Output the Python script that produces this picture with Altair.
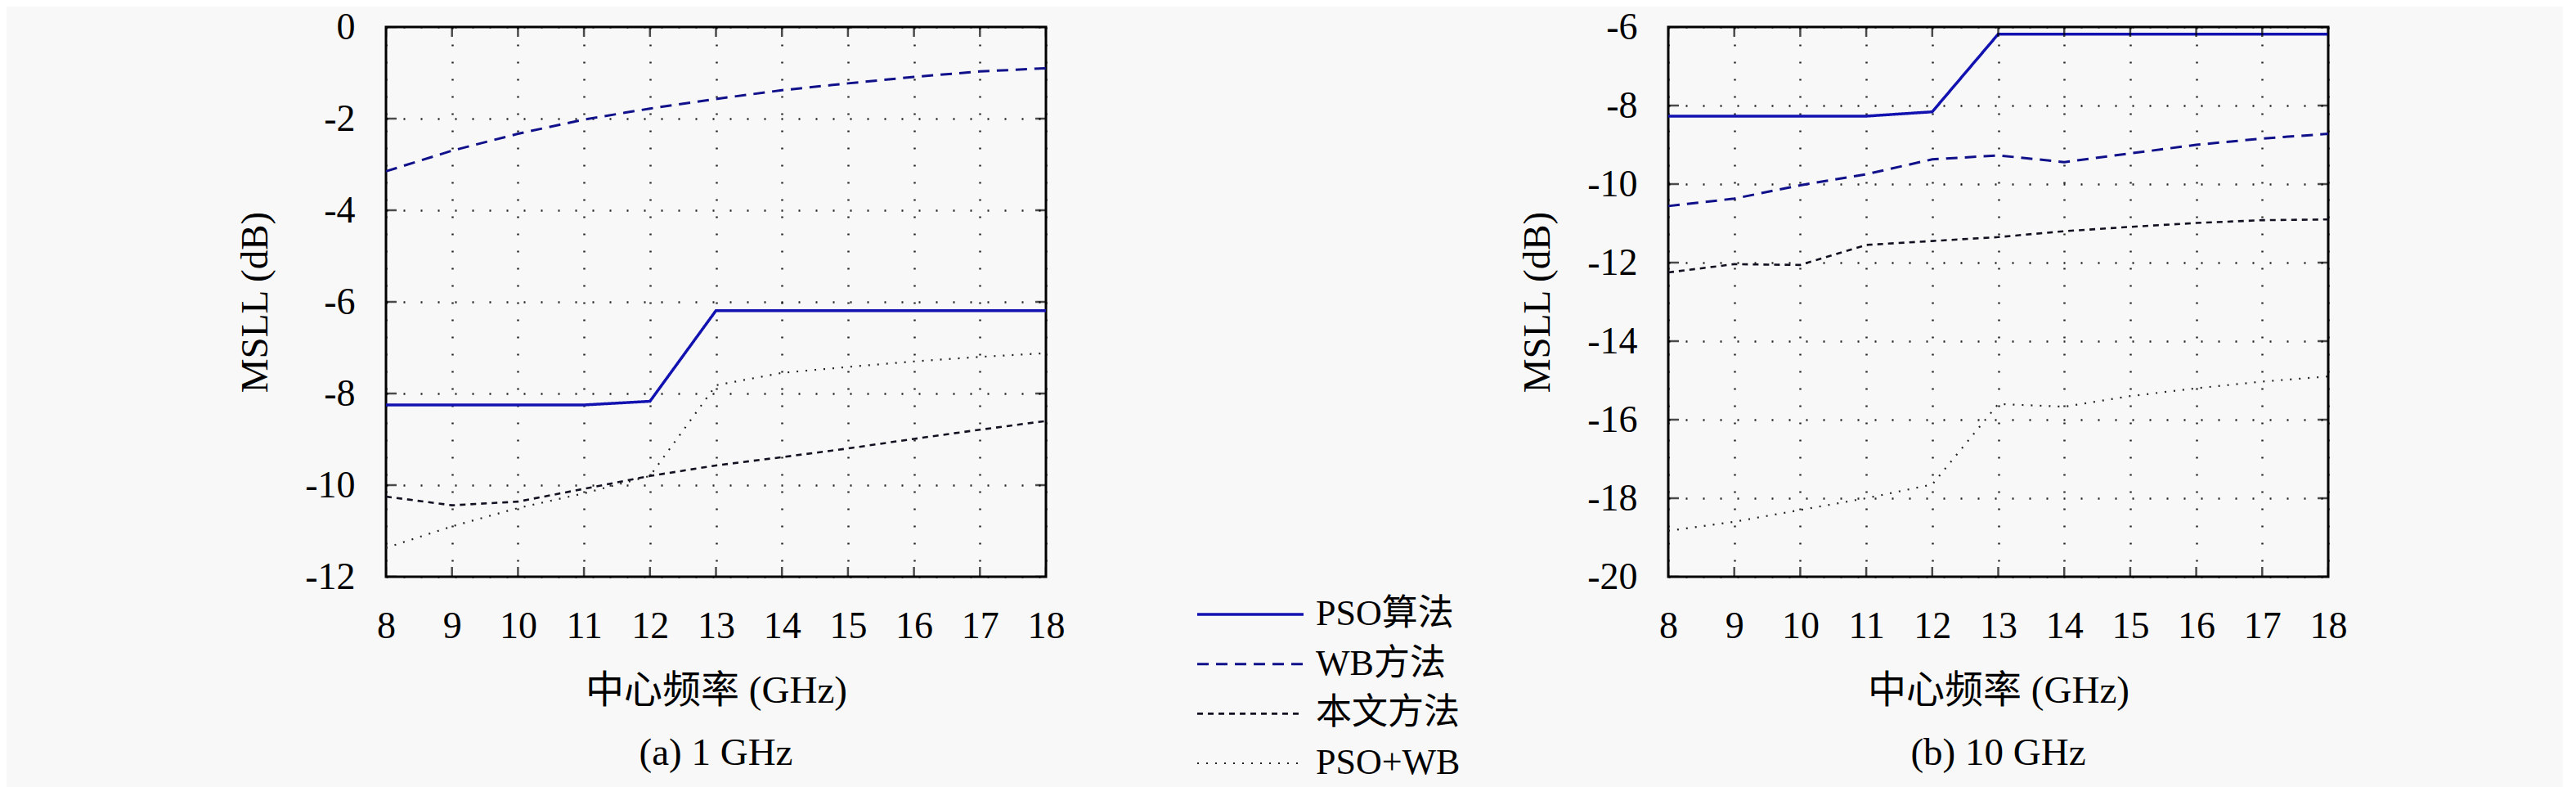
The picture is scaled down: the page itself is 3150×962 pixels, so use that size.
import altair as alt
import pandas as pd

freq = [8, 9, 10, 11, 12, 13, 14, 15, 16, 17, 18]
series = ["PSO算法", "WB方法", "本文方法", "PSO+WB"]

# panel (a) 1 GHz
pso_a = [-8.25, -8.25, -8.25, -8.25, -8.17, -6.19, -6.19, -6.19, -6.19, -6.19, -6.19]
wb_a = [-3.15, -2.70, -2.33, -2.02, -1.78, -1.57, -1.38, -1.23, -1.09, -0.97, -0.90]
ours_a = [-10.25, -10.44, -10.36, -10.08, -9.80, -9.57, -9.39, -9.20, -8.99, -8.79, -8.60]
psowb_a = [-11.37, -10.90, -10.50, -10.18, -9.80, -7.82, -7.55, -7.42, -7.30, -7.20, -7.12]

# panel (b) 10 GHz
pso_b = [-8.27, -8.27, -8.27, -8.27, -8.16, -6.18, -6.18, -6.18, -6.18, -6.18, -6.18]
wb_b = [-10.56, -10.37, -10.03, -9.75, -9.37, -9.27, -9.44, -9.22, -9.00, -8.84, -8.72]
ours_b = [-12.25, -12.04, -12.06, -11.55, -11.45, -11.35, -11.20, -11.09, -10.99, -10.92, -10.90]
psowb_b = [-18.83, -18.60, -18.30, -18.00, -17.65, -15.60, -15.67, -15.40, -15.20, -15.03, -14.90]

yticks_a = [-12, -10, -8, -6, -4, -2, 0]
yticks_b = [-20, -18, -16, -14, -12, -10, -8, -6]

FONT = "Liberation Serif, Noto Sans CJK SC"
colors = ["#1212b0", "#10108a", "#111122", "#222222"]
dashes = [[1, 0], [14, 9], [7, 6], [2, 9]]
widths = [3.5, 3.0, 2.6, 2.2]


def make_df(vals):
    rows = []
    for s, v in zip(series, vals):
        for f, y in zip(freq, v):
            rows.append({"freq": f, "value": y, "series": s})
    return pd.DataFrame(rows)


def panel(vals, yticks, title):
    ymin, ymax = min(yticks), max(yticks)
    df = make_df(vals)
    xenc = alt.X(
        "freq:Q",
        scale=alt.Scale(domain=[8, 18], nice=False, zero=False),
        axis=alt.Axis(values=freq, title="中心频率 (GHz)", grid=True, ticks=False,
                      domain=False, labelPadding=38, titlePadding=33,
                      labelFlush=False, labelOverlap=False, format="d",
                      labelFont=FONT, titleFont=FONT),
    )
    yenc = alt.Y(
        "value:Q",
        scale=alt.Scale(domain=[ymin, ymax], nice=False, zero=False),
        axis=alt.Axis(values=yticks, title="MSLL (dB)", grid=True, ticks=False,
                      domain=False, labelPadding=38, titlePadding=36,
                      labelFlush=False, labelOverlap=False,
                      labelExpr="datum.value + ''",
                      labelFont=FONT, titleFont=FONT),
    )
    layers = []
    for i, s in enumerate(series):
        layers.append(
            alt.Chart(df).transform_filter(alt.datum.series == s).mark_line(
                color=colors[i], strokeDash=dashes[i], strokeWidth=widths[i],
                strokeCap="butt"
            ).encode(x=xenc, y=yenc)
        )
    xt = pd.DataFrame([{"freq": f, "value": v} for f in freq for v in (ymin, ymax)])
    yt = pd.DataFrame([{"freq": f, "value": v} for v in yticks for f in (8, 18)])
    layers.append(
        alt.Chart(xt).mark_tick(orient="vertical", size=24, thickness=2.5,
                                color="black", clip=True)
        .encode(x="freq:Q", y="value:Q")
    )
    layers.append(
        alt.Chart(yt).mark_tick(orient="horizontal", size=26, thickness=2.5,
                                color="black", clip=True)
        .encode(x="freq:Q", y="value:Q")
    )
    return alt.layer(*layers).properties(
        width=807, height=672,
        title=alt.TitleParams(text=title, orient="bottom", offset=31, fontSize=47,
                              font=FONT, fontWeight="normal", color="black",
                              anchor="middle"),
    )


left = panel([pso_a, wb_a, ours_a, psowb_a], yticks_a, "(a) 1 GHz")
right = panel([pso_b, wb_b, ours_b, psowb_b], yticks_b, "(b) 10 GHz")

leg_df = pd.DataFrame({"series": series})
ysc = alt.Y("series:N", axis=None,
            scale=alt.Scale(type="point", domain=series, range=[718, 900], padding=0))
leg_layers = []
for i, s in enumerate(series):
    leg_layers.append(
        alt.Chart(leg_df).transform_filter(alt.datum.series == s).mark_rule(
            color=colors[i], strokeDash=dashes[i], strokeWidth=widths[i], strokeCap="butt"
        ).encode(y=ysc, x=alt.value(158), x2=alt.value(288))
    )
leg_layers.append(
    alt.Chart(leg_df).mark_text(align="left", baseline="middle", fontSize=44,
                                font=FONT, color="black")
    .encode(y=ysc, x=alt.value(303), text="series:N")
)
middle = alt.layer(*leg_layers).properties(
    width=547, height=672, view=alt.ViewBackground(stroke="transparent")
)

chart = alt.hconcat(left, middle, right, spacing=0).properties(
    padding={"left": 279, "top": 0, "right": 262, "bottom": 8},
    background="#f8f8f8",
).configure(
    font=FONT
).configure_view(
    stroke="black", strokeWidth=3
).configure_axis(
    labelFont=FONT, titleFont=FONT, labelFontSize=46, titleFontSize=47,
    labelColor="black", titleColor="black", titleFontWeight="normal",
    gridColor="black", gridDash=[2, 19], gridWidth=2.5, gridOpacity=0.85,
)

chart.save("out.html", embed_options={"renderer": "svg", "actions": False})
